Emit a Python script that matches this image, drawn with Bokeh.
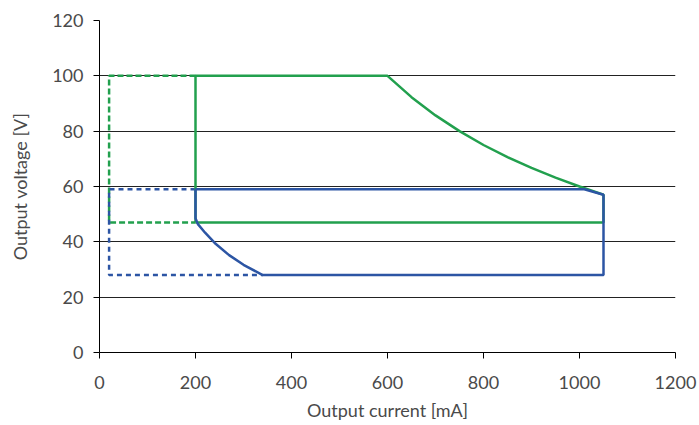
from bokeh.plotting import figure
from bokeh.models import Range1d, FixedTicker
from bokeh.embed import file_html
from bokeh.resources import INLINE

# Green operating window (solid)
green_x = [200, 200, 600, 650, 700, 750, 800, 850, 900, 950, 1000, 1050, 1050, 200]
green_y = [47, 100, 100, 92.3, 85.7, 80, 75, 70.6, 66.7, 63.2, 60, 57, 47, 47]
# Green extended window (dashed)
green_dash_x = [200, 20, 20, 200]
green_dash_y = [100, 100, 47, 47]

# Blue operating window (solid)
blue_x = [200, 1010, 1050, 1050, 340, 300, 270, 240, 220, 205, 200, 200]
blue_y = [59, 59, 57, 28, 28, 31.7, 35.2, 39.6, 43.3, 46.4, 48.5, 59]
# Blue extended window (dashed)
blue_dash_x = [200, 20, 20, 340]
blue_dash_y = [59, 59, 28, 28]

x_ticks = [0, 200, 400, 600, 800, 1000, 1200]
y_ticks = [0, 20, 40, 60, 80, 100, 120]

GREEN = "#22a04e"
BLUE = "#2c55a4"
FONT = "Lato"
TXT = "#4a4a4a"

p = figure(width=699, height=425, output_backend="svg", toolbar_location=None,
           x_range=Range1d(0, 1200), y_range=Range1d(0, 120),
           min_border_left=99, min_border_right=24, min_border_top=20, min_border_bottom=73)
p.outline_line_color = None
p.background_fill_color = "white"

p.xgrid.grid_line_color = None
p.ygrid.grid_line_color = "#222222"
p.ygrid.grid_line_width = 1
p.ygrid.ticker = FixedTicker(ticks=y_ticks)

for ax, ticks in ((p.xaxis[0], x_ticks), (p.yaxis[0], y_ticks)):
    ax.ticker = FixedTicker(ticks=ticks)
    ax.axis_line_color = "black"
    ax.major_tick_line_color = "black"
    ax.major_tick_in = 0
    ax.major_tick_out = 6
    ax.minor_tick_line_color = None
    ax.major_label_text_font = FONT
    ax.major_label_text_font_size = "18px"
    ax.major_label_text_color = TXT
    ax.axis_label_text_font = FONT
    ax.axis_label_text_font_size = "18px"
    ax.axis_label_text_color = TXT
    ax.axis_label_text_font_style = "normal"

p.xaxis.axis_label = "Output current [mA]"
p.yaxis.axis_label = "Output voltage [V]"
p.xaxis.major_label_standoff = 17
p.yaxis.major_label_standoff = 10
p.xaxis.axis_label_standoff = 7
p.yaxis.axis_label_standoff = 18

p.line(green_dash_x, green_dash_y, line_color=GREEN, line_width=2.5, line_dash="6 3")
p.line(blue_dash_x, blue_dash_y, line_color=BLUE, line_width=2.5, line_dash="5 4")
p.line(green_x, green_y, line_color=GREEN, line_width=2.5)
p.line(blue_x, blue_y, line_color=BLUE, line_width=2.5)

open("out.html", "w").write(file_html(p, INLINE))
